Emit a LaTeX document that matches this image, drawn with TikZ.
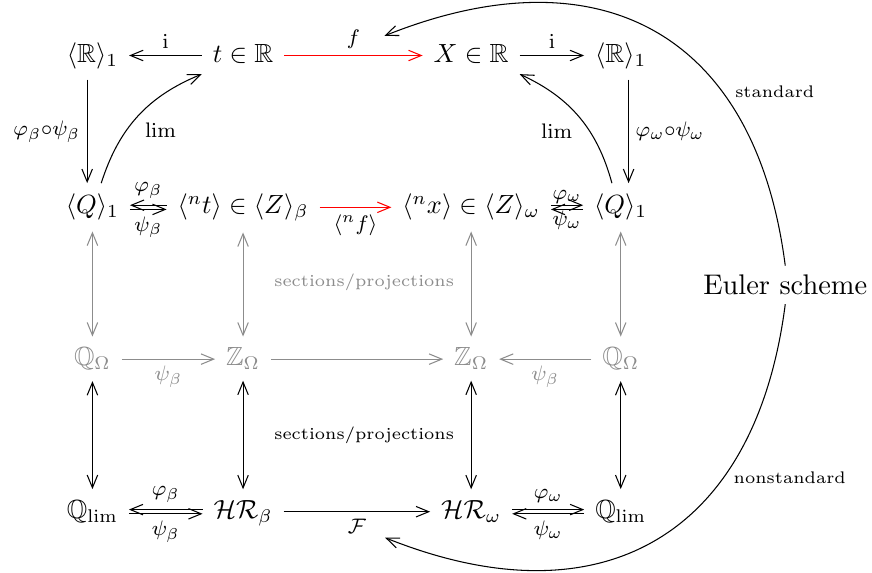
\documentclass[tikz,border=0pt]{standalone}
\usepackage{amssymb}
\usetikzlibrary{arrows.meta}
\tikzset{
  >={Straight Barb[length=1.7mm,width=1.4mm]},
  obj/.style={anchor=base,inner sep=4pt},
  ghost/.style={black!45},
  lbl/.style={font=\footnotesize,inner sep=2.5pt},
  note/.style={font=\fontsize{6.4}{7.7}\selectfont,align=center},
}

\begin{document}
\begin{tikzpicture}
  \useasboundingbox (0,0) rectangle (11.66,-7.65);
  % real line
  \node[obj] (Rl) at (1.236,-0.83) {$\langle\mathbb{R}\rangle_1$};
  \node[obj] (t) at (3.25,-0.83) {$t\in\mathbb{R}$};
  \node[obj] (X) at (6.30,-0.83) {$X\in\mathbb{R}$};
  \node[obj] (Rr) at (8.30,-0.83) {$\langle\mathbb{R}\rangle_1$};
  % sequences
  \node[obj] (Ql) at (1.236,-2.86) {$\langle Q\rangle_1$};
  \node[obj] (nt) at (3.25,-2.86) {$\langle {}^n t\rangle\in\langle Z\rangle_\beta$};
  \node[obj] (nx) at (6.30,-2.86) {$\langle {}^n x\rangle\in\langle Z\rangle_\omega$};
  \node[obj] (Qr) at (8.30,-2.86) {$\langle Q\rangle_1$};
  % Omega row
  \node[obj,ghost] (QOl) at (1.236,-4.89) {$\mathbb{Q}_\Omega$};
  \node[obj,ghost] (ZOl) at (3.25,-4.89) {$\mathbb{Z}_\Omega$};
  \node[obj,ghost] (ZOr) at (6.30,-4.89) {$\mathbb{Z}_\Omega$};
  \node[obj,ghost] (QOr) at (8.30,-4.89) {$\mathbb{Q}_\Omega$};
  % lim row
  \node[obj] (Qliml) at (1.236,-6.93) {$\mathbb{Q}_{\lim}$};
  \node[obj] (HRb) at (3.25,-6.93) {$\mathcal{HR}_\beta$};
  \node[obj] (HRw) at (6.30,-6.93) {$\mathcal{HR}_\omega$};
  \node[obj] (Qlimr) at (8.30,-6.93) {$\mathbb{Q}_{\lim}$};

  % top row maps
  \draw[->] ([yshift=2.5pt]t.base west) -- node[lbl,above]{$\mathrm{i}$} ([yshift=2.5pt]Rl.base east);
  \draw[->,red] ([yshift=2.5pt]t.base east) -- node[lbl,above,text=black]{$f$} ([yshift=2.5pt]X.base west);
  \draw[->] ([yshift=2.5pt]X.base east) -- node[lbl,above]{$\mathrm{i}$} ([yshift=2.5pt]Rr.base west);
  \draw[->] ([xshift=-2pt]Rl.south) -- node[lbl,left]{$\varphi_\beta{\circ}\psi_\beta$} ([xshift=-2pt]Ql.north);
  \draw[->] ([xshift=3pt]Rr.south) -- node[lbl,right]{$\varphi_\omega{\circ}\psi_\omega$} ([xshift=3pt]Qr.north);
  \draw[->] (Ql.70) to[bend left=25] node[lbl,midway,below right]{$\lim$} (t.south west);
  \draw[->] (Qr.110) to[bend right=25] node[lbl,midway,below left]{$\lim$} (X.south east);

  % sequence maps
  \draw[->] ([yshift=3.3pt]nt.base west) -- node[lbl,above]{$\varphi_\beta$} ([yshift=3.3pt]Ql.base east);
  \draw[->] ([yshift=1.7pt]Ql.base east) -- node[lbl,below]{$\psi_\beta$} ([yshift=1.7pt]nt.base west);
  \draw[->,red] ([yshift=2.5pt]nt.base east) -- node[lbl,below,text=black]{$\langle {}^n f\rangle$} ([yshift=2.5pt]nx.base west);
  \draw[->] ([yshift=3.3pt]nx.base east) -- node[lbl,above,inner sep=0.5pt]{$\varphi_\omega$} ([yshift=3.3pt]Qr.base west);
  \draw[->] ([yshift=1.7pt]Qr.base west) -- node[lbl,below,inner sep=0.5pt]{$\psi_\omega$} ([yshift=1.7pt]nx.base east);

  % Omega row maps
  \draw[->,ghost] ([yshift=2.5pt]QOl.base east) -- node[lbl,below]{$\psi_\beta$} ([yshift=2.5pt]ZOl.base west);
  \draw[->,ghost] ([yshift=2.5pt]ZOl.base east) -- ([yshift=2.5pt]ZOr.base west);
  \draw[->,ghost] ([yshift=2.5pt]QOr.base west) -- node[lbl,below]{$\psi_\beta$} ([yshift=2.5pt]ZOr.base east);
  \foreach \a/\b in {Ql/QOl,nt/ZOl,nx/ZOr,Qr/QOr}
    \draw[<->,ghost] (\a.south) -- (\b.north);
  \foreach \a/\b in {QOl/Qliml,ZOl/HRb,ZOr/HRw,QOr/Qlimr}
    \draw[<->] (\a.south) -- (\b.north);
  \node[note,ghost] (sec) at (4.87,-3.78) {sections/projections};
  \node[note] (proj) at (4.87,-5.82) {sections/projections};

  % lim row maps
  \draw[->] ([yshift=3.3pt]HRb.base west) -- node[lbl,above]{$\varphi_\beta$} ([yshift=3.3pt]Qliml.base east);
  \draw[->] ([yshift=1.7pt]Qliml.base east) -- node[lbl,below]{$\psi_\beta$} ([yshift=1.7pt]HRb.base west);
  \draw[->] ([yshift=2.5pt]HRb.base east) -- node[lbl,below]{$\mathcal{F}$} ([yshift=2.5pt]HRw.base west);
  \draw[->] ([yshift=3.3pt]HRw.base east) -- node[lbl,above]{$\varphi_\omega$} ([yshift=3.3pt]Qlimr.base west);
  \draw[->] ([yshift=1.7pt]Qlimr.base west) -- node[lbl,below]{$\psi_\omega$} ([yshift=1.7pt]HRw.base east);

  % Euler scheme
  \node[font=\fontsize{10.8}{13}\selectfont] (euler) at (10.50,-3.81) {Euler scheme};
  \coordinate (stdtip) at (5.14,-0.48);
  \coordinate (nstdtip) at (5.15,-7.19);
  \draw[->] (euler.north) .. controls +(-0.40,3.12) and +(2.87,1.15) .. (stdtip);
  \draw[->] (euler.south) .. controls +(-0.40,-3.12) and +(2.87,-1.15) .. (nstdtip);
  \node[note] (std) at (10.36,-1.23) {standard};
  \node[note] (nstd) at (10.56,-6.39) {nonstandard};
\end{tikzpicture}
\end{document}
